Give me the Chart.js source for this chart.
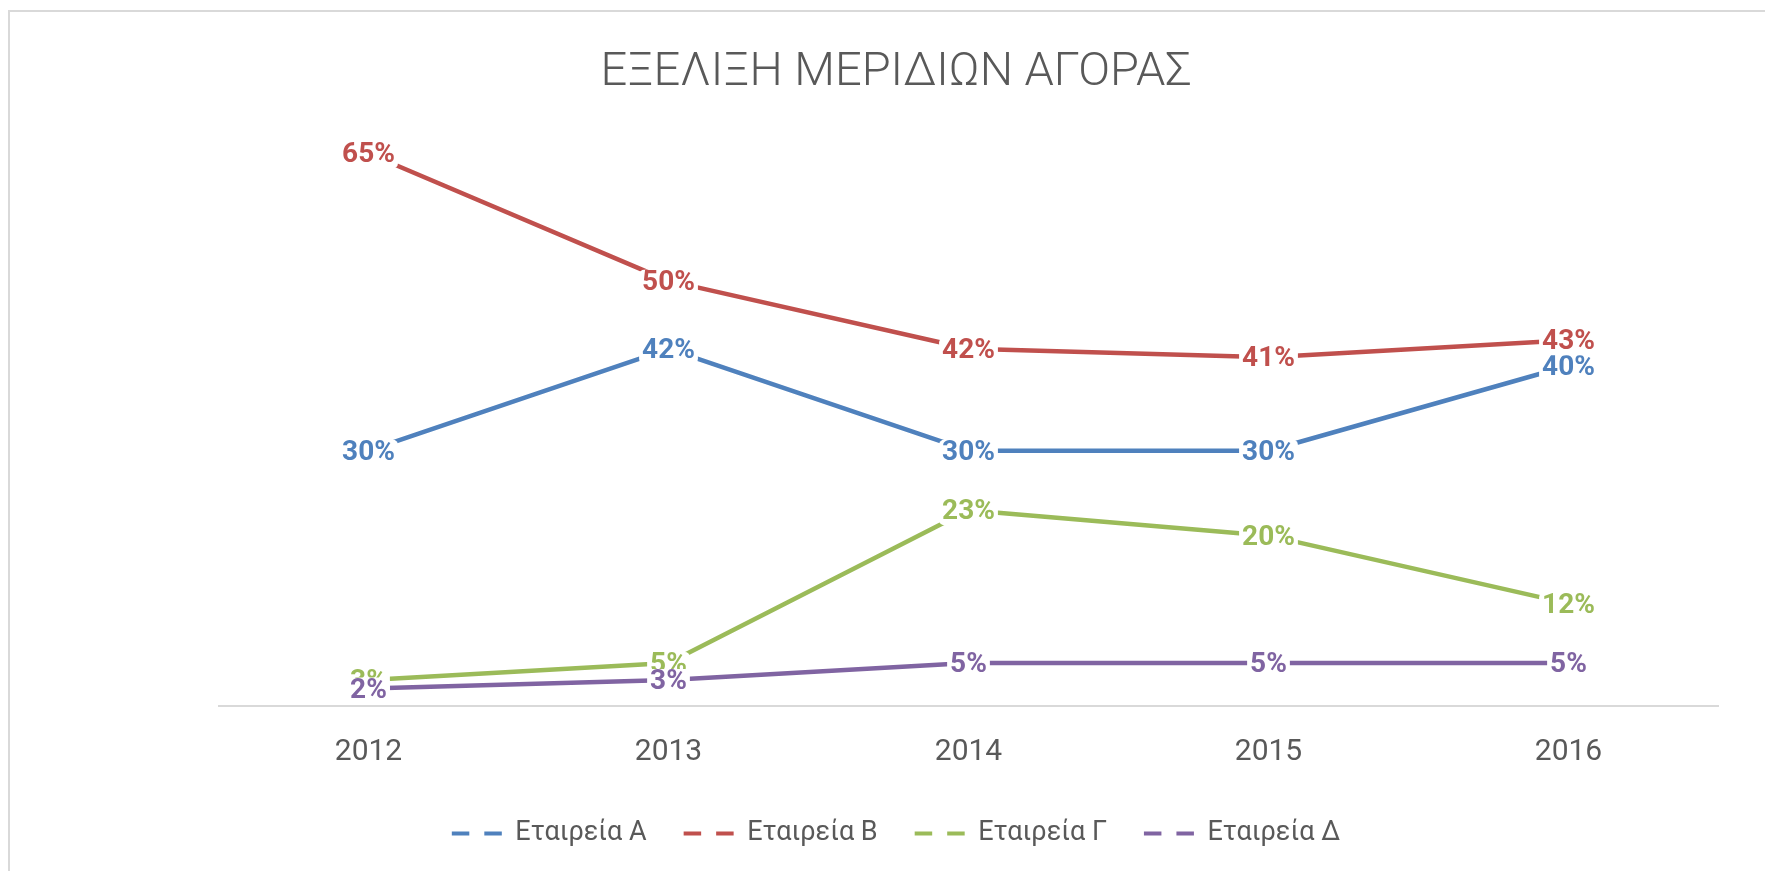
<!DOCTYPE html>
<html>
<head>
<meta charset="utf-8">
<script src="https://cdn.jsdelivr.net/npm/chart.js@4/dist/chart.umd.min.js"></script>
<style>
  html, body { margin: 0; padding: 0; background: #fff; }
  #wrap { width: 1765px; height: 871px; }
</style>
</head>
<body>
<div id="wrap"><canvas id="shares"></canvas></div>
<script>
const years = ["2012", "2013", "2014", "2015", "2016"];
const seriesNames = ["Εταιρεία Α", "Εταιρεία Β", "Εταιρεία Γ", "Εταιρεία Δ"];
const shareA = [30, 42, 30, 30, 40];
const shareB = [65, 50, 42, 41, 43];
const shareG = [3, 5, 23, 20, 12];
const shareD = [2, 3, 5, 5, 5];
const colors = ["#4F81BD", "#C0504D", "#9BBB59", "#8064A2"];

const grey = "#595959";

// frame round the chart, like the excel chart border
const framePlugin = {
  id: "frame",
  beforeDraw(chart) {
    const ctx = chart.ctx;
    ctx.save();
    ctx.fillStyle = "#fff";
    ctx.fillRect(0, 0, chart.width, chart.height);
    ctx.strokeStyle = "#d9d9d9";
    ctx.lineWidth = 2;
    ctx.strokeRect(9, 11, chart.width + 20, chart.height + 20);
    ctx.restore();
  }
};

// percent labels on every point, with white box behind
const pointLabels = {
  id: "pointLabels",
  afterDatasetsDraw(chart) {
    const ctx = chart.ctx;
    ctx.save();
    ctx.font = "bold 28px Roboto";
    ctx.textAlign = "center";
    ctx.textBaseline = "middle";
    chart.data.datasets.forEach((ds, di) => {
      const meta = chart.getDatasetMeta(di);
      meta.data.forEach((pt, i) => {
        const txt = ds.data[i] + "%";
        const w = ctx.measureText(txt).width;
        const y = pt.y + 2;
        ctx.fillStyle = "#fff";
        ctx.beginPath();
        ctx.roundRect(pt.x - w / 2 - 3, y - 13, w + 6, 26, 5);
        ctx.fill();
        ctx.fillStyle = ds.borderColor;
        ctx.fillText(txt, pt.x, y);
      });
    });
    ctx.restore();
  }
};

function line(label, data, color) {
  return {
    label: label,
    data: data,
    borderColor: color,
    backgroundColor: color,
    borderWidth: 4.5,
    borderJoinStyle: "round",
    borderCapStyle: "round",
    pointRadius: 0,
    tension: 0,
    fill: false
  };
}

new Chart(document.getElementById("shares"), {
  type: "line",
  data: {
    labels: years,
    datasets: [
      line(seriesNames[0], shareA, colors[0]),
      line(seriesNames[1], shareB, colors[1]),
      line(seriesNames[2], shareG, colors[2]),
      line(seriesNames[3], shareD, colors[3])
    ]
  },
  options: {
    responsive: true,
    maintainAspectRatio: false,
    animation: false,
    layout: { padding: { left: 73.5, right: 46.5, top: 0, bottom: 14 } },
    scales: {
      x: {
        offset: true,
        grid: { display: false, drawTicks: false },
        border: { display: true, color: "#d9d9d9", width: 2 },
        ticks: { color: grey, padding: 29, font: { family: "Roboto", size: 30 } },
        afterFit(scale) { scale.height = 77.5; }
      },
      y: {
        min: 0,
        max: 70,
        grid: { display: false, drawTicks: false },
        border: { display: false },
        ticks: { display: false },
        afterFit(scale) { scale.width = 145; }
      }
    },
    plugins: {
      title: {
        display: true,
        text: "ΕΞΕΛΙΞΗ ΜΕΡΙΔΙΩΝ ΑΓΟΡΑΣ",
        color: grey,
        font: { family: "Roboto", size: 47, weight: "300" },
        padding: { top: 44.6, bottom: 10 }
      },
      legend: {
        position: "bottom",
        labels: {
          color: grey,
          font: { family: "Roboto", size: 27 },
          padding: 37,
          usePointStyle: true,
          pointStyleWidth: 50,
          generateLabels(chart) {
            return chart.data.datasets.map((ds, i) => ({
              text: ds.label,
              fillStyle: ds.borderColor,
              strokeStyle: ds.borderColor,
              fontColor: grey,
              lineWidth: 4,
              lineDash: [17.5, 15],
              pointStyle: "line",
              hidden: false,
              datasetIndex: i
            }));
          }
        }
      },
      tooltip: { enabled: false }
    }
  },
  plugins: [framePlugin, pointLabels]
});
</script>
</body>
</html>
